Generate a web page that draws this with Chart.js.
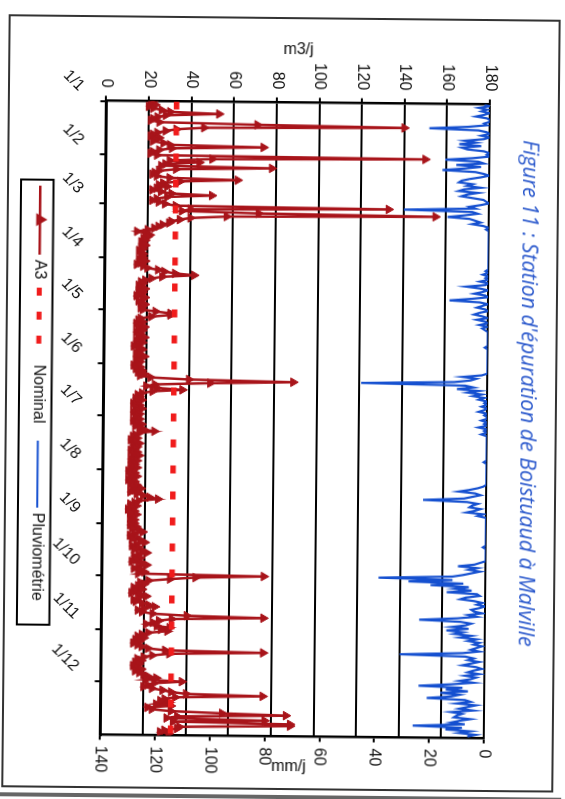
<!DOCTYPE html>
<html>
<head>
<meta charset="utf-8">
<script src="https://cdn.jsdelivr.net/npm/chart.js@4/dist/chart.umd.min.js"></script>
<style>
  html, body { margin: 0; padding: 0; background: #fff; overflow: hidden; width: 565px; height: 799px; }
  /* the sheet is laid out landscape and turned a quarter turn onto the portrait page */
  #sheet {
    position: absolute; left: 0; top: 0; width: 799px; height: 565px;
    transform-origin: 0 0;
    transform: translate(282.5px, 399.5px) rotate(0.55deg) translate(-282.5px, -399.5px) translate(565px, 0) rotate(90deg);
  }
  #frame { position: absolute; left: 17px; top: 8px; width: 773px; height: 552px; border: 2px solid #333; box-sizing: border-box; }
  #edge { position: absolute; left: 795px; top: 0; width: 4px; height: 565px; background: #666; }
  canvas { position: absolute; left: 0; top: 0; }
</style>
</head>
<body>
<div id="sheet">
  <div id="frame"></div>
  <div id="edge"></div>
  <canvas id="chart" width="799" height="565"></canvas>
</div>
<script>
// Daily inflow at the plant, m3/j (series A3), one array per month
const a3Jan = [22,21,23,20,22,26,30,53,28,24,22,21,25,71,140,46,33,28,24,22,21,25,23,22,27,30,74,31,25,22,21];
const a3Feb = [24,150,50,30,44,28,26,78,33,25,23,22,24,30,62,35,27,25,29,24,22,26,31,50,29,24,22,25];
const a3Mar = [28,33,133,40,36,72,155,57,40,35,31,30,27,25,23,20,15,19,21,20,18,19,17,18,19,17,18,16,17,18,17];
const a3Apr = [18,16,19,17,15,18,20,25,28,33,42,27,22,19,17,18,16,17,19,16,18,17,15,19,18,16,17,19,18,17];
const a3May = [18,24,31,31,22,17,16,18,15,17,19,16,18,15,17,16,19,17,15,18,16,14,17,18,16,15,17,19,16,15,17];
const a3Jun = [16,14,17,15,18,16,19,17,22,40,89,50,24,20,25,37,23,18,16,17,15,18,16,14,17,15,18,16,14,17];
const a3Jul = [16,15,17,14,16,18,15,17,19,24,17,15,14,16,13,15,17,14,16,15,13,16,14,17,15,13,16,14,15,13,16];
const a3Aug = [14,12,15,13,16,14,12,15,13,16,14,18,15,13,16,19,22,26,17,15,13,16,14,12,15,13,16,14,13,15,14];
const a3Sep = [15,13,16,14,17,19,15,13,16,14,18,20,16,14,17,15,19,21,17,15,18,16,14,19,21,17,15,18,20,17];
const a3Oct = [76,44,32,22,18,20,17,15,19,16,14,18,21,17,15,16,19,22,25,20,17,19,24,40,76,33,27,24,21,26,32];
const a3Nov = [28,31,22,19,17,20,16,18,15,17,19,22,30,76,32,24,20,17,19,16,18,15,17,19,16,18,20,22,26,21];
const a3Dec = [38,25,22,20,24,29,33,40,76,35,30,28,32,26,33,22,24,33,57,87,36,31,77,34,89,89,37,36,30,28,32];

// Daily rainfall, mm/j
const rainJan = [2,0,4,1,3,0,2,5,1,0,0,2,1,8,22,4,1,0,3,0,2,9,5,11,3,10,8,2,0,1,0];
const rainFeb = [6,16,4,2,12,3,9,17,5,2,0,3,7,10,11,6,8,3,9,11,4,8,10,6,2,1,0,3];
const rainMar = [7,5,31,6,4,9,15,7,5,3,6,2,0,1,0,0,0,0,0,0,0,0,0,0,0,0,0,0,0,0,0];
const rainApr = [0,0,0,0,0,0,1,0,2,0,1,0,3,0,1,8,3,0,2,5,1,0,6,14,3,0,2,4,1,0];
const rainMay = [3,5,2,0,4,1,0,3,0,2,1,0,0,0,0,0,0,0,0,0,1,0,0,0,0,0,0,0,0,0,0];
const rainJun = [0,0,0,0,0,2,9,4,6,12,46,8,5,11,3,7,2,5,1,3,0,1,0,2,0,1,3,0,1,0];
const rainJul = [0,2,0,1,0,3,0,1,0,2,0,0,0,0,0,0,0,0,0,0,0,0,0,0,0,1,0,0,0,0,0];
const rainAug = [0,0,0,0,0,0,0,0,1,3,6,10,4,2,5,8,23,7,3,5,6,2,4,7,1,3,0,0,0,0,0];
const rainSep = [0,0,0,0,0,0,0,0,0,0,0,0,1,0,0,0,0,0,0,0,0,2,4,10,3,6,2,5,8,12];
const rainOct = [39,12,28,8,20,6,11,5,14,3,2,7,9,4,1,3,0,2,5,4,1,6,3,10,24,9,5,7,12,6,14];
const rainNov = [8,11,5,9,3,6,2,4,1,3,5,2,8,31,7,4,6,2,5,8,3,1,4,6,2,7,3,5,9,4];
const rainDec = [12,24,8,14,6,16,9,12,21,7,5,10,3,6,9,4,12,8,10,11,5,9,12,7,26,8,14,5,9,3,6];

// Nominal capacity, m3/j
const nominal = 33;

// Date axis: day of year of each month's first day, and its label
const monthStarts = [0,31,59,90,120,151,181,212,243,273,304,334];
const monthLabels = ['1/1','1/2','1/3','1/4','1/5','1/6','1/7','1/8','1/9','1/10','1/11','1/12'];
const yearDays = 365;

const a3 = [].concat(a3Jan,a3Feb,a3Mar,a3Apr,a3May,a3Jun,a3Jul,a3Aug,a3Sep,a3Oct,a3Nov,a3Dec);
const rain = [].concat(rainJan,rainFeb,rainMar,rainApr,rainMay,rainJun,rainJul,rainAug,rainSep,rainOct,rainNov,rainDec);

const FONT = '"Liberation Sans", Arial, sans-serif';
const INK = '#111';
const C_A3 = '#a8141a';
const C_NOM = '#f01c1c';
const C_RAIN = '#1550d0';
const C_TITLE = '#2a58cc';

// plot frame inside the 799x565 canvas
const AREA = { left: 102.5, right: 736.5, top: 78, bottom: 461.5 };

const decorations = {
  id: 'decorations',
  afterDraw(chart) {
    const ctx = chart.ctx;
    const area = chart.chartArea;
    ctx.save();

    // heading
    const heading = "Figure 11 : Station d'épuration de Boistuaud à Malville";
    ctx.font = 'italic 18px "Open Sans", "Liberation Sans", sans-serif';
    const w = ctx.measureText(heading).width;
    const size = 18 * 507 / w;
    ctx.font = 'italic ' + size.toFixed(2) + 'px "Open Sans", "Liberation Sans", sans-serif';
    ctx.fillStyle = C_TITLE;
    ctx.textAlign = 'center';
    ctx.textBaseline = 'middle';
    ctx.fillText(heading, 391, 38);

    // right axis title, reading upwards
    ctx.save();
    ctx.translate(area.right + 30.5, 273);
    ctx.rotate(-Math.PI / 2);
    ctx.font = '16px ' + FONT;
    ctx.fillStyle = INK;
    ctx.textAlign = 'center';
    ctx.textBaseline = 'middle';
    ctx.fillText('mm/j', 0, 0);
    ctx.restore();

    // legend box
    const lx = 182, ly = 513.5, lw = 445, lh = 32.5;
    const cy = ly + lh / 2 - 3;
    ctx.lineWidth = 2;
    ctx.strokeStyle = '#000';
    ctx.setLineDash([]);
    ctx.strokeRect(lx, ly, lw, lh);

    ctx.font = '16px ' + FONT;
    ctx.fillStyle = INK;
    ctx.textAlign = 'left';
    ctx.textBaseline = 'middle';

    // A3
    ctx.strokeStyle = C_A3;
    ctx.lineWidth = 2.5;
    ctx.beginPath(); ctx.moveTo(188, cy); ctx.lineTo(257, cy); ctx.stroke();
    ctx.fillStyle = C_A3;
    Chart.helpers.drawPoint(ctx, { pointStyle: 'triangle', radius: 5, rotation: 0, borderWidth: 1 }, 222, cy);
    ctx.fillStyle = INK;
    ctx.fillText('A3', 262, cy);

    // Nominal
    ctx.strokeStyle = C_NOM;
    ctx.lineWidth = 5;
    ctx.setLineDash([8, 16]);
    ctx.beginPath(); ctx.moveTo(290, cy); ctx.lineTo(362, cy); ctx.stroke();
    ctx.setLineDash([]);
    ctx.fillText('Nominal', 367, cy);

    // Pluviométrie
    ctx.strokeStyle = C_RAIN;
    ctx.lineWidth = 2;
    ctx.beginPath(); ctx.moveTo(443, cy); ctx.lineTo(510, cy); ctx.stroke();
    ctx.fillText('Pluviométrie', 515, cy);

    ctx.restore();
  }
};

Chart.defaults.font.family = FONT;
Chart.defaults.color = INK;

new Chart(document.getElementById('chart'), {
  type: 'line',
  data: {
    datasets: [
      {
        label: 'Nominal',
        data: [{ x: 0, y: nominal }, { x: yearDays, y: nominal }],
        yAxisID: 'y',
        borderColor: C_NOM,
        borderWidth: 5.5,
        borderDash: [8, 18],
        borderCapStyle: 'butt',
        pointRadius: 0
      },
      {
        label: 'A3',
        data: a3.map((v, i) => ({ x: i, y: v })),
        yAxisID: 'y',
        borderColor: C_A3,
        borderWidth: 2.5,
        pointStyle: 'triangle',
        pointRadius: 5,
        pointBackgroundColor: C_A3,
        pointBorderColor: C_A3,
        pointBorderWidth: 1,
        tension: 0
      },
      {
        label: 'Pluviométrie',
        data: rain.map((v, i) => ({ x: i, y: v })),
        yAxisID: 'y2',
        borderColor: C_RAIN,
        borderWidth: 2.2,
        pointRadius: 0,
        tension: 0
      }
    ]
  },
  options: {
    responsive: false,
    devicePixelRatio: 1,
    animation: false,
    events: [],
    layout: { padding: { left: 0, right: 0, top: AREA.top, bottom: 0 } },
    plugins: { legend: { display: false }, tooltip: { enabled: false }, title: { display: false } },
    scales: {
      x: {
        type: 'linear',
        position: 'bottom',
        min: 0,
        max: yearDays,
        afterBuildTicks: (s) => { s.ticks = monthStarts.map(v => ({ value: v })); },
        afterFit: (s) => { s.height = 565 - AREA.bottom; },
        ticks: {
          autoSkip: false,
          minRotation: 45,
          maxRotation: 45,
          padding: 12,
          labelOffset: -12,
          font: { size: 16 },
          color: INK,
          callback: (v) => monthLabels[monthStarts.indexOf(v)]
        },
        grid: { drawOnChartArea: false, drawTicks: true, tickLength: 6, color: '#000', lineWidth: 2 },
        border: { display: true, color: '#000', width: 2.5 }
      },
      y: {
        position: 'left',
        min: 0,
        max: 180,
        afterFit: (s) => { s.width = AREA.left; },
        ticks: { stepSize: 20, padding: 8, font: { size: 16 }, color: INK },
        grid: { color: '#000', lineWidth: 2, drawTicks: true, tickLength: 5, tickColor: '#000' },
        border: { display: true, color: '#000', width: 2.5 },
        title: { display: true, text: 'm3/j', font: { size: 16 }, color: INK, padding: { top: 40, bottom: 0 } }
      },
      y2: {
        position: 'right',
        min: 0,
        max: 140,
        reverse: true,
        afterFit: (s) => { s.width = 799 - AREA.right; },
        ticks: { stepSize: 20, padding: 6, font: { size: 16 }, color: INK },
        grid: { drawOnChartArea: false, drawTicks: true, tickLength: 5, color: '#000', lineWidth: 2 },
        border: { display: true, color: '#000', width: 2.5 }
      }
    }
  },
  plugins: [decorations]
});
</script>
</body>
</html>
